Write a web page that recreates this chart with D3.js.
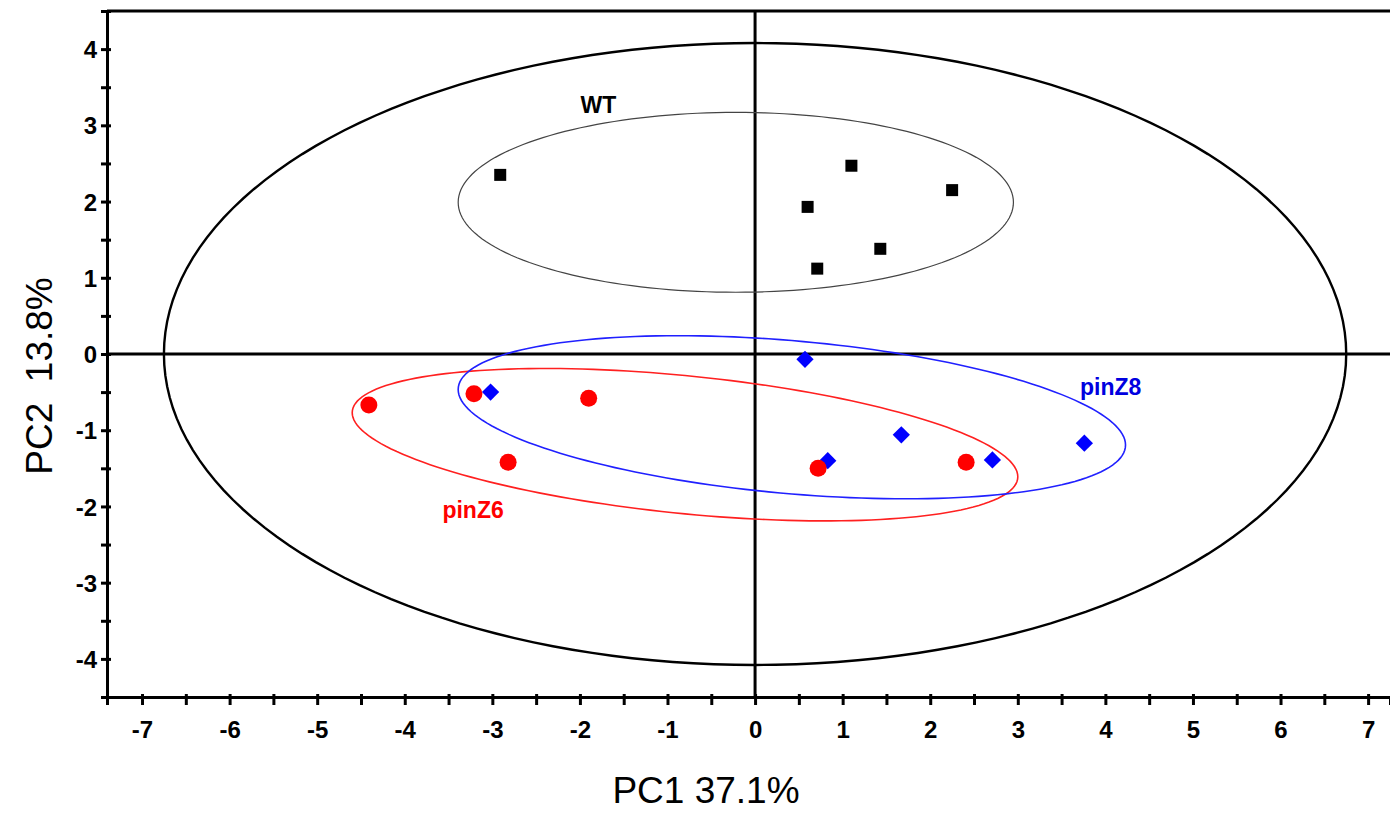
<!DOCTYPE html>
<html>
<head>
<meta charset="utf-8">
<script src="https://cdn.jsdelivr.net/npm/d3@7"></script>
<style>
    body { margin: 0; background: #fff; }
    svg { display: block; font-family: "Liberation Sans", Arial, sans-serif; }
    .axis path, .axis line { stroke: #000; stroke-width: 3; }
    .axis text { font-size: 24px; font-weight: bold; fill: #000; }
    .title { font-size: 37px; fill: #000; }
    .groupLabel { font-size: 23px; font-weight: bold; }
</style>
</head>
<body>
<script>
/*
* Dati: valori PCA dei campioni per gruppo
*/
var xTickValues = [-7, -6, -5, -4, -3, -2, -1, 0, 1, 2, 3, 4, 5, 6, 7];
var yTickValues = [-4, -3, -2, -1, 0, 1, 2, 3, 4];

var wtX = [-2.91, 1.10, 2.25, 0.60, 1.43, 0.71];
var wtY = [2.35, 2.47, 2.15, 1.93, 1.38, 1.12];

var pinZ6X = [-4.41, -3.21, -1.90, -2.82, 0.72, 2.41];
var pinZ6Y = [-0.67, -0.52, -0.58, -1.42, -1.50, -1.42];

var pinZ8X = [-3.02, 0.57, 1.67, 0.83, 2.71, 3.76];
var pinZ8Y = [-0.50, -0.07, -1.06, -1.40, -1.39, -1.17];

// ellissi di confidenza: centro, semiassi e correlazione
var ellipseNames = ["all", "WT", "pinZ6", "pinZ8"];
var ellipseCx = [0, -0.22, -0.80, 0.42];
var ellipseCy = [0, 1.99, -1.19, -0.83];
var ellipseSx = [6.75, 3.17, 3.80, 3.81];
var ellipseSy = [4.08, 1.18, 1.00, 1.07];
var ellipseR = [0, 0, -0.42, -0.34];

var width = 1390;
var height = 813;
var margin = {top: 11, right: 0, bottom: 116, left: 107};

var svg = d3.select("body").append("svg")
    .attr("width", width)
    .attr("height", height);

var x = d3.scaleLinear()
    .domain([-7.4, 7.25])
    .range([margin.left, width - margin.right]);

var y = d3.scaleLinear()
    .domain([-4.5, 4.5])
    .range([height - margin.bottom, margin.top]);

/*
* Assi con tacche principali (con etichetta) e secondarie
*/
function halfTicks(values) {
    var out = [];
    for (let i = 0; i < values.length - 1; i++) {
        out.push((values[i] + values[i + 1]) / 2);
    }
    out.push(values[0] - 0.5);
    out.push(values[values.length - 1] + 0.5);
    return out;
}

function plainLabel(d) { return String(d); }

var xAxisG = svg.append("g")
    .attr("class", "axis")
    .attr("transform", "translate(0," + y(-4.5) + ")");
xAxisG.append("g").call(d3.axisBottom(x).tickValues(halfTicks(xTickValues).filter(function (d) { return d < 7.25 && d > -7.4; }))
    .tickFormat("").tickSizeOuter(0).tickSize(8));
xAxisG.append("g").call(d3.axisBottom(x).tickValues(xTickValues)
    .tickFormat(plainLabel).tickSizeOuter(0).tickSize(8).tickPadding(16));
xAxisG.selectAll(".tick line").attr("y1", -3);

var yAxisG = svg.append("g")
    .attr("class", "axis")
    .attr("transform", "translate(" + x(-7.4) + ",0)");
yAxisG.append("g").call(d3.axisLeft(y).tickValues(halfTicks(yTickValues))
    .tickFormat("").tickSizeOuter(0).tickSize(6));
yAxisG.append("g").call(d3.axisLeft(y).tickValues(yTickValues)
    .tickFormat(plainLabel).tickSizeOuter(0).tickSize(6).tickPadding(4));
yAxisG.selectAll(".tick line").attr("x1", 4);
yAxisG.selectAll("text").attr("dy", "0.36em");

// bordo superiore
svg.append("line")
    .attr("x1", x(-7.4)).attr("x2", x(7.25))
    .attr("y1", y(4.5)).attr("y2", y(4.5))
    .attr("stroke", "#000").attr("stroke-width", 3);

// linee dello zero
svg.append("line")
    .attr("x1", x(0)).attr("x2", x(0))
    .attr("y1", y(4.5)).attr("y2", y(-4.5))
    .attr("stroke", "#000").attr("stroke-width", 3);
svg.append("line")
    .attr("x1", x(-7.4)).attr("x2", x(7.25))
    .attr("y1", y(0)).attr("y2", y(0))
    .attr("stroke", "#000").attr("stroke-width", 3);

/*
* Ellissi: punti calcolati in coordinate dei dati e poi passati alle scale
*/
var ellipseColors = {all: "#000", WT: "#444", pinZ6: "#ff2020", pinZ8: "#2020ff"};
var ellipseWidths = {all: 2.4, WT: 1.2, pinZ6: 1.6, pinZ8: 1.6};

var line = d3.line()
    .x(function (d) { return x(d[0]); })
    .y(function (d) { return y(d[1]); })
    .curve(d3.curveLinearClosed);

for (let i = 0; i < ellipseNames.length; i++) {
    var pts = [];
    var r = ellipseR[i];
    for (let k = 0; k < 180; k++) {
        var t = 2 * Math.PI * k / 180;
        pts.push([
            ellipseCx[i] + ellipseSx[i] * Math.cos(t),
            ellipseCy[i] + ellipseSy[i] * (r * Math.cos(t) + Math.sqrt(1 - r * r) * Math.sin(t))
        ]);
    }
    svg.append("path")
        .attr("d", line(pts))
        .attr("fill", "none")
        .attr("stroke", ellipseColors[ellipseNames[i]])
        .attr("stroke-width", ellipseWidths[ellipseNames[i]]);
}

/*
* Punti dei tre gruppi
*/
var wt = wtX.map(function (d, i) { return {x: d, y: wtY[i]}; });
var z6 = pinZ6X.map(function (d, i) { return {x: d, y: pinZ6Y[i]}; });
var z8 = pinZ8X.map(function (d, i) { return {x: d, y: pinZ8Y[i]}; });

svg.selectAll("rect.wt").data(wt).enter().append("rect")
    .attr("class", "wt")
    .attr("x", function (d) { return x(d.x) - 6; })
    .attr("y", function (d) { return y(d.y) - 6; })
    .attr("width", 12)
    .attr("height", 12)
    .attr("fill", "#000");

svg.selectAll("path.z8").data(z8).enter().append("path")
    .attr("class", "z8")
    .attr("d", d3.symbol().type(d3.symbolDiamond2).size(190))
    .attr("transform", function (d) { return "translate(" + x(d.x) + "," + y(d.y) + ")"; })
    .attr("fill", "#0000ff");

svg.selectAll("circle.z6").data(z6).enter().append("circle")
    .attr("class", "z6")
    .attr("cx", function (d) { return x(d.x); })
    .attr("cy", function (d) { return y(d.y); })
    .attr("r", 8.5)
    .attr("fill", "#ff0000");

// etichette dei gruppi
svg.append("text").attr("class", "groupLabel")
    .attr("x", x(-1.79)).attr("y", y(3.16))
    .attr("text-anchor", "middle").attr("fill", "#000")
    .text("WT");
svg.append("text").attr("class", "groupLabel")
    .attr("x", x(-3.57)).attr("y", y(-2.15))
    .attr("fill", "#ff0000")
    .text("pinZ6");
svg.append("text").attr("class", "groupLabel")
    .attr("x", x(3.71)).attr("y", y(-0.54))
    .attr("fill", "#0000e0")
    .text("pinZ8");

// titoli degli assi
svg.append("text").attr("class", "title")
    .attr("x", 706).attr("y", 803)
    .attr("text-anchor", "middle")
    .text("PC1 37.1%");
svg.append("text").attr("class", "title")
    .attr("transform", "translate(52,376) rotate(-90)")
    .attr("text-anchor", "middle")
    .attr("xml:space", "preserve")
    .style("white-space", "pre")
    .text("PC2  13.8%");
</script>
</body>
</html>
